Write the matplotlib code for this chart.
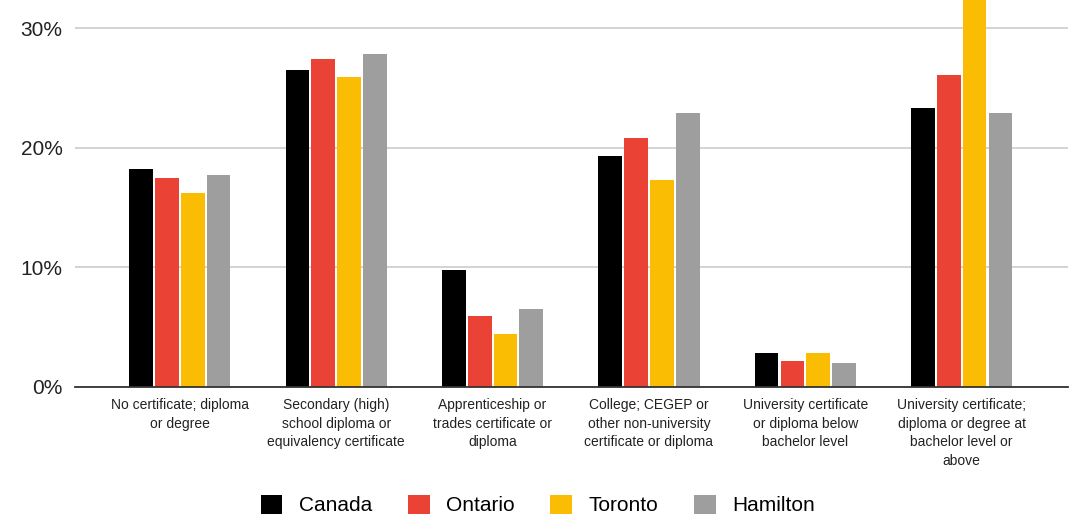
import numpy as np
import matplotlib.pyplot as plt
from matplotlib.ticker import FuncFormatter

plt.rcParams['font.family'] = ['Liberation Sans', 'DejaVu Sans']

# --- data ---
categories = [
    "No certificate; diploma\nor degree",
    "Secondary (high)\nschool diploma or\nequivalency certificate",
    "Apprenticeship or\ntrades certificate or\ndiploma",
    "College; CEGEP or\nother non-university\ncertificate or diploma",
    "University certificate\nor diploma below\nbachelor level",
    "University certificate;\ndiploma or degree at\nbachelor level or\nabove",
]
canada = [18.2, 26.5, 9.8, 19.3, 2.8, 23.3]
ontario = [17.5, 27.4, 5.9, 20.8, 2.2, 26.1]
toronto = [16.2, 25.9, 4.4, 17.3, 2.8, 37.0]
hamilton = [17.7, 27.8, 6.5, 22.9, 2.0, 22.9]

series = [("Canada", canada, "#000000"),
          ("Ontario", ontario, "#EA4335"),
          ("Toronto", toronto, "#FBBC04"),
          ("Hamilton", hamilton, "#9E9E9E")]

fig = plt.figure(figsize=(10.76, 5.27), dpi=100)
ax = fig.add_axes([0.0697, 0.2657, 0.9229, 0.7343])

x = np.arange(len(categories))
step = 0.165
width = 0.152
for k, (name, vals, col) in enumerate(series):
    ax.bar(x + (k - 1.5) * step, vals, width, color=col, label=name, zorder=3)

ax.set_ylim(0, 32.35)
ax.set_xlim(-0.67, 5.68)
ax.set_yticks([0, 10, 20, 30])
ax.yaxis.set_major_formatter(FuncFormatter(lambda v, p: f"{v:.0f}%"))
ax.grid(axis='y', color='#cccccc', linewidth=1.2, zorder=0)
for s in ['top', 'right', 'left']:
    ax.spines[s].set_visible(False)
ax.spines['bottom'].set_color('#333333')
ax.spines['bottom'].set_linewidth(1.3)
ax.spines['bottom'].set_zorder(4)
ax.tick_params(axis='y', length=0, labelsize=15, pad=9, colors='#222222')
ax.tick_params(axis='x', length=0, pad=8)
ax.set_xticks(x)
ax.set_xticklabels(categories, fontsize=10, color='#222222', linespacing=1.42)

fig.legend(loc='center', bbox_to_anchor=(0.5, 1 - 505 / 527), ncol=4,
           frameon=False, fontsize=15, handlelength=1.05, handleheight=1.05,
           columnspacing=1.7, handletextpad=0.8)

plt.savefig("out.png", dpi=100)
